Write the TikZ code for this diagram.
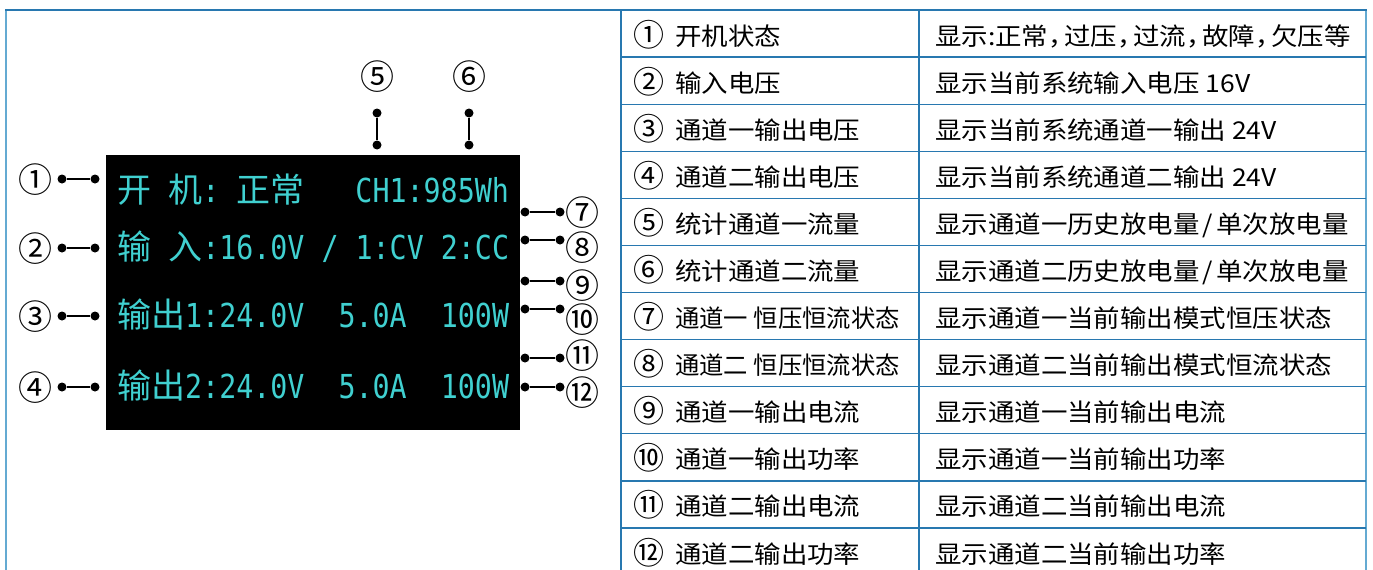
\documentclass[tikz,border=0pt]{standalone}
\usepackage{fontspec}
\usepackage{graphicx}
\newfontfamily\cjk{Noto Sans CJK SC}
\newfontfamily\tblfont[FakeStretch=1.08]{Noto Sans CJK SC}
\newfontfamily\lcdfont[FakeStretch=0.858]{DejaVu Sans Mono}
\definecolor{lcdcyan}{RGB}{64,208,208}
\definecolor{tblblue}{RGB}{40,120,176}
\definecolor{edgeblue}{RGB}{100,170,210}
\newcommand{\lcdcjk}[1]{\makebox[34pt][c]{\cjk\fontsize{34}{40}\selectfont #1}}
\newcommand{\lblank}{\hspace*{17.05pt}}
\newcommand{\tcomma}{\makebox[16pt][l]{，}}
\newcommand{\tslash}{\hspace*{3pt}/\hspace*{3pt}}
\tikzset{
  lcdtxt/.style={text=lcdcyan, font=\lcdfont\fontsize{33}{40}\selectfont\frenchspacing, inner sep=0pt, anchor=base west},
  callnum/.style={font=\cjk\fontsize{34}{40}\selectfont, inner sep=0pt},
  pindot/.style={circle, fill=black, inner sep=0pt, minimum size=9pt},
  pinline/.style={line width=2.4pt},
  tbltxt/.style={font=\tblfont\fontsize{24.5}{30}\selectfont, inner sep=0pt, anchor=base west},
  tblnum/.style={font=\cjk\fontsize{31}{36}\selectfont, inner sep=0pt, anchor=base west},
  tblline/.style={draw=tblblue, line width=1.3pt},
}
\begin{document}
\begin{tikzpicture}[x=1pt,y=-1pt]
\useasboundingbox (0,0) rectangle (1373,570);
\clip (0,0) rectangle (1373,570);
\fill[white] (0,0) rectangle (1373,570);
% outer frame
\draw[draw=edgeblue, line width=2.5pt] (6,10) -- (6,572);
\draw[draw=edgeblue, line width=2.5pt] (1366,10) -- (1366,572);
\draw[tblline] (5,10) -- (1367,10);
% table grid
\foreach \i in {1,...,11} { \draw[tblline] (621,10+47.09*\i) -- (1366,10+47.09*\i); }
\draw[tblline] (621,10) -- (621,572);
\draw[tblline] (919,10) -- (919,572);
% screen
\fill[black] (106,155) rectangle (520,430);
\node[lcdtxt] (l1) at (117,202) {\lcdcjk{开}\lblank\lcdcjk{机}:\lblank\lcdcjk{正}\lcdcjk{常}\lblank\lblank\lblank CH1:985Wh};
\node[lcdtxt] (l2) at (117,259) {\lcdcjk{输}\lblank\lcdcjk{入}:16.0V\lblank/\lblank1:CV\lblank2:CC};
\node[lcdtxt] (l3) at (117,327) {\lcdcjk{输}\lcdcjk{出}1:24.0V\lblank\lblank5.0A\lblank\lblank100W};
\node[lcdtxt] (l4) at (117,398) {\lcdcjk{输}\lcdcjk{出}2:24.0V\lblank\lblank5.0A\lblank\lblank100W};
% left callouts
\node[callnum] (c1) at (36,180) {①};
\node[pindot] (a1) at (62,179) {}; \node[pindot] (b1) at (95,179) {};
\draw[pinline] (a1) -- (b1);
\node[callnum] (c2) at (36,249) {②};
\node[pindot] (a2) at (62,248) {}; \node[pindot] (b2) at (95,248) {};
\draw[pinline] (a2) -- (b2);
\node[callnum] (c3) at (36,317) {③};
\node[pindot] (a3) at (62,316) {}; \node[pindot] (b3) at (95,316) {};
\draw[pinline] (a3) -- (b3);
\node[callnum] (c4) at (36,388) {④};
\node[pindot] (a4) at (62,387) {}; \node[pindot] (b4) at (95,387) {};
\draw[pinline] (a4) -- (b4);
% top callouts
\node[callnum] (c5) at (377,77) {⑤};
\node[pindot] (a5) at (377,113) {}; \node[pindot] (b5) at (377,145) {};
\draw[pinline] (a5) -- (b5);
\node[callnum] (c6) at (469,77) {⑥};
\node[pindot] (a6) at (469,113) {}; \node[pindot] (b6) at (469,145) {};
\draw[pinline] (a6) -- (b6);
% right callouts
\node[pindot] (a7) at (525,212) {}; \node[pindot] (b7) at (560,212) {};
\draw[pinline] (a7) -- (b7);
\node[callnum] (c7) at (582,213) {⑦};
\node[pindot] (a8) at (525,240) {}; \node[pindot] (b8) at (560,240) {};
\draw[pinline] (a8) -- (b8);
\node[callnum] (c8) at (582,248) {⑧};
\node[pindot] (a9) at (525,281) {}; \node[pindot] (b9) at (560,281) {};
\draw[pinline] (a9) -- (b9);
\node[callnum] (c9) at (582,286) {⑨};
\node[pindot] (a10) at (525,309) {}; \node[pindot] (b10) at (560,309) {};
\draw[pinline] (a10) -- (b10);
\node[callnum] (c10) at (582,320) {⑩};
\node[pindot] (a11) at (525,358) {}; \node[pindot] (b11) at (560,358) {};
\draw[pinline] (a11) -- (b11);
\node[callnum] (c11) at (582,356) {⑪};
\node[pindot] (a12) at (525,387) {}; \node[pindot] (b12) at (560,387) {};
\draw[pinline] (a12) -- (b12);
\node[callnum] (c12) at (582,393) {⑫};
% table text
\node[tblnum] (n1) at (633,46.0) {①};
\node[tbltxt] (t1) at (675,45.0) {开机状态};
\node[tbltxt] (d1) at (935,45.0) {显示:正常\tcomma 过压\tcomma 过流\tcomma 故障\tcomma 欠压等};
\node[tblnum] (n2) at (633,93.1) {②};
\node[tbltxt] (t2) at (675,92.1) {输入电压};
\node[tbltxt] (d2) at (935,92.1) {显示当前系统输入电压 16V};
\node[tblnum] (n3) at (633,140.2) {③};
\node[tbltxt] (t3) at (675,139.2) {通道一输出电压};
\node[tbltxt] (d3) at (935,139.2) {显示当前系统通道一输出 24V};
\node[tblnum] (n4) at (633,187.3) {④};
\node[tbltxt] (t4) at (675,186.3) {通道二输出电压};
\node[tbltxt] (d4) at (935,186.3) {显示当前系统通道二输出 24V};
\node[tblnum] (n5) at (633,234.4) {⑤};
\node[tbltxt] (t5) at (675,233.4) {统计通道一流量};
\node[tbltxt] (d5) at (935,233.4) {显示通道一历史放电量\tslash 单次放电量};
\node[tblnum] (n6) at (633,281.5) {⑥};
\node[tbltxt] (t6) at (675,280.5) {统计通道二流量};
\node[tbltxt] (d6) at (935,280.5) {显示通道二历史放电量\tslash 单次放电量};
\node[tblnum] (n7) at (633,328.5) {⑦};
\node[tbltxt] (t7) at (675,327.5) {\scalebox{0.92}[1]{通道一 恒压恒流状态}};
\node[tbltxt] (d7) at (935,327.5) {显示通道一当前输出模式恒压状态};
\node[tblnum] (n8) at (633,375.6) {⑧};
\node[tbltxt] (t8) at (675,374.6) {\scalebox{0.92}[1]{通道二 恒压恒流状态}};
\node[tbltxt] (d8) at (935,374.6) {显示通道二当前输出模式恒流状态};
\node[tblnum] (n9) at (633,422.7) {⑨};
\node[tbltxt] (t9) at (675,421.7) {通道一输出电流};
\node[tbltxt] (d9) at (935,421.7) {显示通道一当前输出电流};
\node[tblnum] (n10) at (633,469.8) {⑩};
\node[tbltxt] (t10) at (675,468.8) {通道一输出功率};
\node[tbltxt] (d10) at (935,468.8) {显示通道一当前输出功率};
\node[tblnum] (n11) at (633,516.9) {⑪};
\node[tbltxt] (t11) at (675,515.9) {通道二输出电流};
\node[tbltxt] (d11) at (935,515.9) {显示通道二当前输出电流};
\node[tblnum] (n12) at (633,564.0) {⑫};
\node[tbltxt] (t12) at (675,563.0) {通道二输出功率};
\node[tbltxt] (d12) at (935,563.0) {显示通道二当前输出功率};
\end{tikzpicture}
\end{document}
